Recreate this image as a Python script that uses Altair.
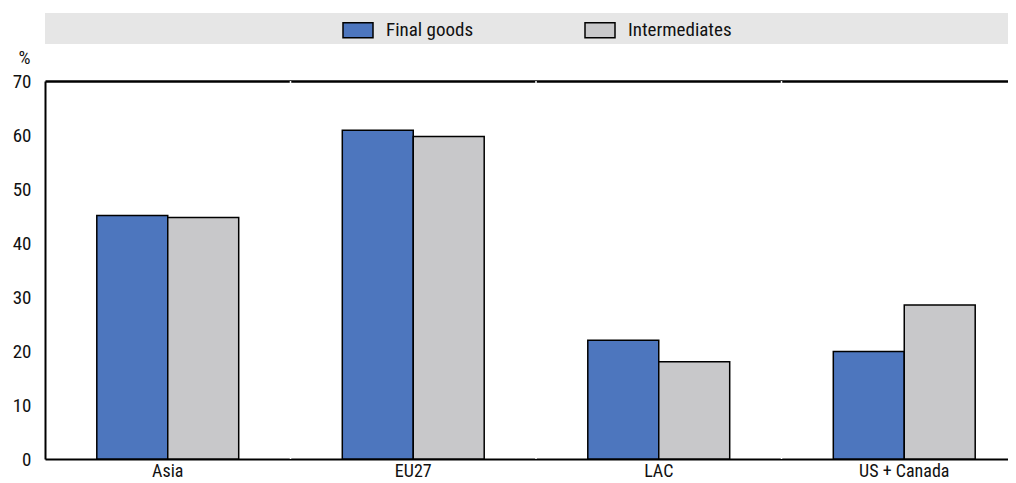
import altair as alt
import pandas as pd

regions = ["Asia", "EU27", "LAC", "US + Canada"]
series = ["Final goods", "Intermediates"]
final_goods = [45.1, 60.9, 22.0, 19.9]
intermediates = [44.7, 59.7, 18.0, 28.5]
colors = ["#4D76BE", "#C8C8CA"]
y_ticks = [0, 10, 20, 30, 40, 50, 60, 70]

rows = []
for i, r in enumerate(regions):
    rows.append({"region": r, "series": series[0], "value": final_goods[i]})
    rows.append({"region": r, "series": series[1], "value": intermediates[i]})
df = pd.DataFrame(rows)
df_regions = pd.DataFrame({"region": regions})

W, H = 963, 378
X_RANGE = 982
FONT = "Liberation Sans Narrow, Roboto Condensed, Arial Narrow, sans-serif"

x_enc = alt.X(
    "region:N",
    sort=regions,
    scale=alt.Scale(paddingInner=0, paddingOuter=0, range=[0, X_RANGE]),
    axis=alt.Axis(
        title=None, labelAngle=0, labelAlign="center", labelBaseline="top",
        labelFontSize=18, labelPadding=3, ticks=False, labelBound=False,
        labelOverlap=False, labelFlush=False,
        domainColor="black", domainWidth=2, grid=False, labelColor="#111111",
    ),
)

y_enc = alt.Y(
    "value:Q",
    scale=alt.Scale(domain=[0, 70], nice=False),
    axis=alt.Axis(
        values=y_ticks, title="%", titleAngle=0, titleX=-21, titleY=-18,
        titleAlign="center", titleBaseline="alphabetic", titleFontSize=19,
        titleFontWeight="normal", titleColor="#111111",
        labelFontSize=19, labelPadding=14, labelColor="#111111", ticks=False,
        domainColor="black", domainWidth=2,
        grid=True,
        gridColor=alt.condition("datum.value === 70", alt.value("black"), alt.value("white")),
        gridWidth=alt.condition("datum.value === 70", alt.value(2.5), alt.value(1.5)),
    ),
)

band = alt.Chart(pd.DataFrame({"a": [0]})).mark_rect(color="#E6E6E6").encode(
    x=alt.value(0), x2=alt.value(W), y=alt.value(-68), y2=alt.value(-37)
)

vrules = alt.Chart(df_regions).transform_filter("datum.region !== 'Asia'").mark_rule(
    color="white", strokeWidth=1.5
).encode(x=alt.X("region:N", sort=regions, bandPosition=0))

bars = alt.Chart(df).mark_bar(stroke="black", strokeWidth=1.5).encode(
    x=x_enc,
    xOffset=alt.XOffset("series:N", sort=series, scale=alt.Scale(paddingInner=0, paddingOuter=0.73)),
    y=y_enc,
    color=alt.Color(
        "series:N",
        sort=series,
        scale=alt.Scale(domain=series, range=colors),
        legend=alt.Legend(
            title=None, orient="none", legendX=297, legendY=-67, direction="horizontal",
            symbolType="M-1,-0.5L1,-0.5L1,0.5L-1,0.5Z", symbolSize=900,
            symbolStrokeColor="black", symbolStrokeWidth=1.5, symbolOpacity=1,
            labelFontSize=19, labelOffset=12, columnPadding=108, padding=0,
            labelColor="#111111",
        ),
    ),
)

chart = alt.layer(band, vrules, bars).properties(
    width=W, height=H,
    autosize=alt.AutoSizeParams(type="none"),
    padding={"left": 37, "top": 73, "right": 0, "bottom": 24},
).configure_view(fill="#ECF0F9", stroke=None).configure(
    font=FONT
).configure_axis(labelFont=FONT, titleFont=FONT).configure_legend(labelFont=FONT)

chart.save("out.html", embed_options={"renderer": "svg", "actions": False})
